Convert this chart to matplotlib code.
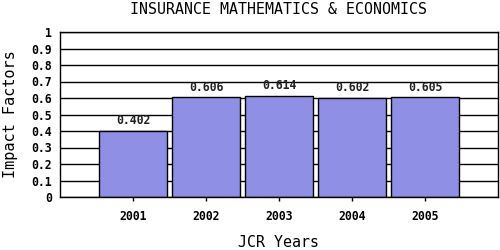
import matplotlib
matplotlib.use('Agg')
import matplotlib.pyplot as plt

# chart data
years = ['2001', '2002', '2003', '2004', '2005']
impact = [0.402, 0.606, 0.614, 0.602, 0.605]
yticks = [0, 0.1, 0.2, 0.3, 0.4, 0.5, 0.6, 0.7, 0.8, 0.9, 1]
ytick_labels = ['0', '0.1', '0.2', '0.3', '0.4', '0.5', '0.6', '0.7', '0.8', '0.9', '1']

plt.rcParams['font.family'] = ['DejaVu Sans Mono']

fig = plt.figure(figsize=(5, 2.5), dpi=100)
ax = fig.add_axes([0.12, 0.212, 0.876, 0.66])

x = list(range(len(years)))
ax.set_axisbelow(True)
ax.yaxis.grid(True, color='black', linewidth=1)
ax.bar(x, impact, width=0.92, color='#8f8fe6', edgecolor='black', linewidth=1, zorder=2)

for xi, v in zip(x, impact):
    ax.text(xi, v + 0.02, '%.3f' % v, ha='center', va='bottom', fontsize=8.3,
            fontweight='bold', color='#222222')

ax.set_xlim(-1, 5)
ax.set_ylim(0, 1)
ax.set_xticks(x)
ax.set_xticklabels(years, fontsize=8.3, fontweight='bold')
ax.set_yticks(yticks)
ax.set_yticklabels(ytick_labels, fontsize=8.3, fontweight='bold')
ax.tick_params(axis='y', length=0, pad=6)
ax.tick_params(axis='x', length=3, width=1, pad=6)
for s in ax.spines.values():
    s.set_color('black')
    s.set_linewidth(1)

fig.text(0.022, 0.545, 'Impact Factors', ha='center', va='center', rotation=90, fontsize=11)
fig.text(0.556, 0.03, 'JCR Years', ha='center', va='center', fontsize=10.8)
fig.text(0.557, 0.962, 'INSURANCE MATHEMATICS & ECONOMICS', ha='center', va='center', fontsize=10.7)

fig.savefig('out.png', dpi=100)
